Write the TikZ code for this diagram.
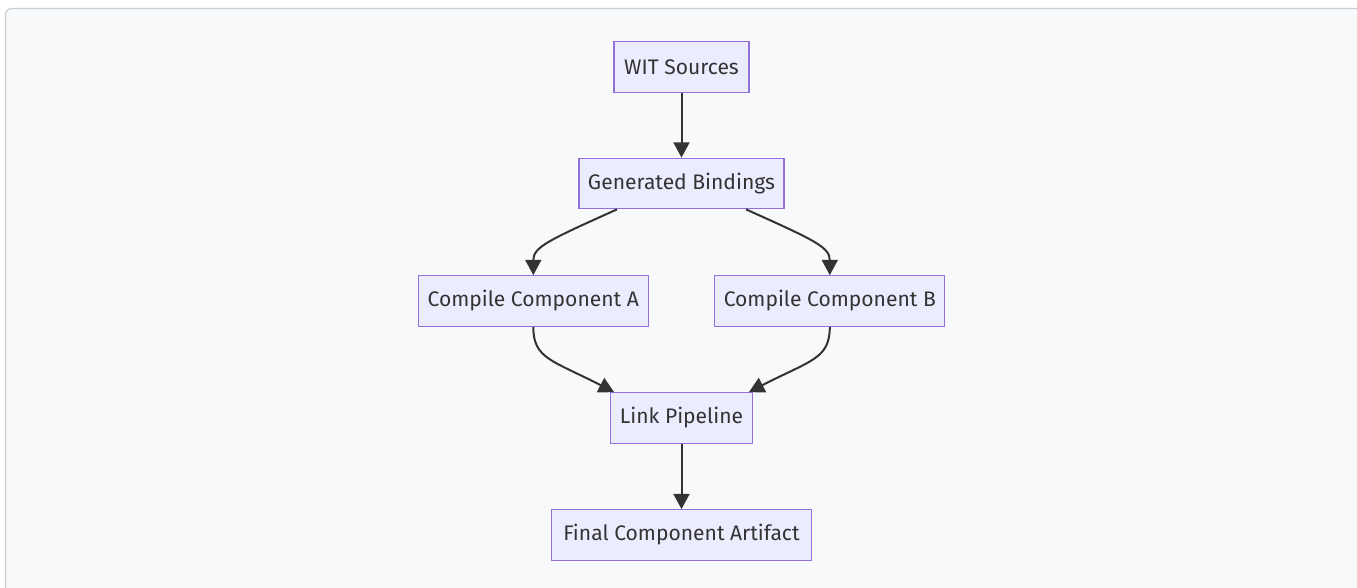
\documentclass[tikz,border=0pt]{standalone}
\usepackage{fontspec}
\setmainfont{Fira Sans}
\usetikzlibrary{arrows.meta,calc}
\definecolor{bg}{HTML}{F8F9FA}
\definecolor{framecol}{HTML}{C9CDD2}
\definecolor{nodefill}{HTML}{ECECFF}
\definecolor{nodeline}{HTML}{9370DB}
\definecolor{ink}{HTML}{333333}
\tikzset{
  box/.style={draw=nodeline, fill=nodefill, line width=0.9pt, inner sep=0pt,
    minimum height=37.9pt, text=ink, font=\fontsize{15.8}{18}\selectfont},
  edge/.style={draw=ink, line width=1.5pt, -{Triangle[length=11.5pt,width=12pt]}}
}
\begin{document}
\begin{tikzpicture}[x=0.75pt,y=-0.75pt]
\useasboundingbox (0,0) rectangle (1357,587);
\fill[white] (0,0) rectangle (1357,587);
\clip (0,0) rectangle (1357,587);
\draw[framecol, fill=bg, line width=0.9pt, rounded corners=4.5pt] (5.5,8.5) rectangle (1380,610);

\node[box, minimum width=101.25pt] (wit) at (681.5,67) {WIT Sources};
\node[box, minimum width=153.75pt] (gb) at (681.5,183.5) {Generated Bindings};
\node[box, minimum width=172.5pt] (ca) at (533.3,301) {Compile Component A};
\node[box, minimum width=172.5pt] (cb) at (829.8,301) {Compile Component B};
\node[box, minimum width=106.2pt] (link) at (681.5,418) {Link Pipeline};
\node[box, minimum width=194.8pt] (final) at (681.5,535) {Final Component Artifact};

\draw[edge] (wit) -- (gb);
\draw[edge] ($(gb.south)+(-64.5,0)$) .. controls +(-69,31) and +(0,-28) .. (ca.north);
\draw[edge] ($(gb.south)+(64.5,0)$) .. controls +(69,31) and +(0,-28) .. (cb.north);
\draw[edge] (ca.south) .. controls +(0,32) and +(-62,-32) .. ($(link.north west)+(4,0)$);
\draw[edge] (cb.south) .. controls +(0,32) and +(62,-32) .. ($(link.north east)+(-4,0)$);
\draw[edge] (link) -- (final);
\end{tikzpicture}
\end{document}
